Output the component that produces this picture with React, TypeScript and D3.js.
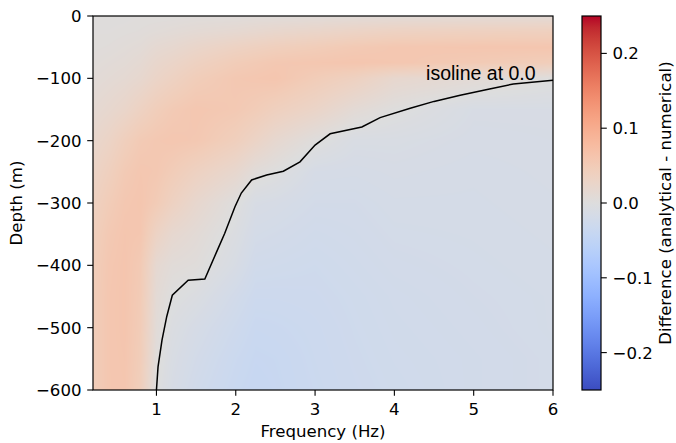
import React, { useMemo } from "react";
import * as d3 from "d3";

// grid of the difference field (values in 1e-3), rows = depth, columns = frequency
const freqs = [0.2, 0.4, 0.6, 0.8, 1.0, 1.2, 1.5, 2.0, 2.25, 2.5, 3.0, 3.5, 4.0, 5.0, 6.0];
const depths = [0, -25, -50, -75, -100, -150, -200, -250, -300, -350, -400, -450, -500, -550, -600];
const diff = [
  [2, 2, 2, 3, 3, 3, 4, 4, 5, 5, 6, 7, 8, 9, 10],
  [3, 3, 4, 5, 7, 9, 12, 16, 19, 22, 26, 31, 35, 38, 40],
  [4, 5, 7, 9, 15, 18, 25, 34, 38, 42, 47, 53, 57, 59, 60],
  [6, 8, 10, 14, 22, 27, 36, 48, 52, 56, 58, 60, 58, 52, 45],
  [8, 11, 14, 19, 28, 35, 46, 56, 58, 60, 48, 37, 20, 11, 1],
  [14, 19, 25, 35, 45, 52, 58, 54, 48, 40, 28, 11, 1, -12, -12],
  [22, 30, 42, 52, 56, 58, 56, 42, 30, 18, 2, -10, -10, -14, -13],
  [30, 40, 52, 58, 56, 48, 36, 20, 6, 0, -15, -16, -14, -16, -14],
  [37, 48, 57, 60, 50, 36, 20, 1, -12, -14, -20, -20, -17, -17, -15],
  [42, 54, 60, 58, 32, 18, 10, -6, -18, -20, -24, -22, -19, -18, -16],
  [45, 57, 61, 52, 16, 7, 4, -12, -24, -25, -27, -24, -21, -19, -17],
  [46, 58, 61, 50, 11, 0, -6, -22, -30, -30, -29, -26, -23, -20, -18],
  [46, 58, 61, 48, 8, -6, -15, -28, -35, -34, -31, -27, -24, -21, -18],
  [46, 58, 60, 46, 4, -10, -20, -33, -38, -37, -32, -28, -25, -22, -19],
  [46, 58, 59, 43, 0, -13, -24, -36, -40, -38, -33, -29, -26, -22, -19],
];

// zero isoline
const isoFreq = [1.0, 1.02, 1.07, 1.13, 1.2, 1.4, 1.61, 1.76, 1.86, 1.99, 2.07, 2.2, 2.39, 2.6, 2.81, 3.0, 3.19, 3.59, 3.82, 4.2, 4.5, 4.83, 5.2, 5.5, 6.0];
const isoDepth = [-600, -563, -520, -482, -448, -424, -422, -378, -349, -306, -284, -263, -255, -249, -234, -207, -189, -178, -163, -148, -137, -127, -117, -109, -103];

const xTicks = [1, 2, 3, 4, 5, 6];
const yTicks = [0, -100, -200, -300, -400, -500, -600];
const cbarTicks = [0.2, 0.1, 0.0, -0.1, -0.2];

// matplotlib coolwarm
const coolwarm = [
  "#3b4cc0", "#445acc", "#4d68d7", "#5775e1", "#6282ea", "#6c8ef1", "#779af7", "#82a5fb",
  "#8db0fe", "#98b9ff", "#a3c2ff", "#aec9fd", "#b8d0f9", "#c2d5f4", "#ccd9ee", "#d5dbe6",
  "#dddddd", "#e5d8d1", "#ecd3c5", "#f1cdb9", "#f5c4ad", "#f7bba0", "#f7b194", "#f7a687",
  "#f49a7b", "#f18d6f", "#ec7f63", "#e57058", "#de604d", "#d55042", "#cb3e38", "#c0282f",
  "#b40426",
];
const cmap = d3.piecewise(d3.interpolateRgb, coolwarm);
const vmin = -0.25, vmax = 0.25;

const W = 676, H = 443;
const m = { left: 93, top: 16, right: 553, bottom: 390 };
const cb = { x: 582, w: 19 };
const font = "DejaVu Sans, sans-serif";
const fs = 16.6;

function sample(f: number, d: number) {
  let i = d3.bisectRight(freqs, f) - 1;
  i = Math.max(0, Math.min(freqs.length - 2, i));
  const tx = Math.max(0, Math.min(1, (f - freqs[i]) / (freqs[i + 1] - freqs[i])));
  let j = 0;
  while (j < depths.length - 2 && d < depths[j + 1]) j++;
  const ty = Math.max(0, Math.min(1, (depths[j] - d) / (depths[j] - depths[j + 1])));
  const a = diff[j][i] * (1 - tx) + diff[j][i + 1] * tx;
  const b = diff[j + 1][i] * (1 - tx) + diff[j + 1][i + 1] * tx;
  return (a * (1 - ty) + b * ty) / 1000;
}

export default function App() {
  const x = d3.scaleLinear().domain([0.2, 6]).range([m.left, m.right]);
  const y = d3.scaleLinear().domain([0, -600]).range([m.top, m.bottom]);
  const c = d3.scaleLinear().domain([vmin, vmax]).range([m.bottom, m.top]);

  const img = useMemo(() => {
    const w = m.right - m.left, h = m.bottom - m.top;
    const canvas = document.createElement("canvas");
    canvas.width = w;
    canvas.height = h;
    const ctx = canvas.getContext("2d")!;
    const data = ctx.createImageData(w, h);
    for (let py = 0; py < h; py++) {
      const d = y.invert(m.top + py + 0.5);
      for (let px = 0; px < w; px++) {
        const f = x.invert(m.left + px + 0.5);
        const v = sample(f, d);
        const col = d3.rgb(cmap((v - vmin) / (vmax - vmin)));
        const k = (py * w + px) * 4;
        data.data[k] = col.r;
        data.data[k + 1] = col.g;
        data.data[k + 2] = col.b;
        data.data[k + 3] = 255;
      }
    }
    ctx.putImageData(data, 0, 0);
    return canvas.toDataURL();
  }, []);

  const line = d3
    .line<number>()
    .x((_, i) => x(isoFreq[i]))
    .y((_, i) => y(isoDepth[i]));

  return (
    <svg width={W} height={H} style={{ position: "absolute", left: 0, top: 0, background: "#fff" }}>
      <defs>
        <linearGradient id="cbar" x1="0" y1="1" x2="0" y2="0">
          {coolwarm.map((col, i) => (
            <stop key={i} offset={i / (coolwarm.length - 1)} stopColor={col} />
          ))}
        </linearGradient>
      </defs>
      <image href={img} x={m.left} y={m.top} width={m.right - m.left} height={m.bottom - m.top} />
      <path d={line(isoFreq) || ""} fill="none" stroke="#000" strokeWidth={1.5} />
      <text x={x(4.4)} y={y(-103)} fontFamily="Liberation Sans, Arial, sans-serif" fontSize={19.5} fill="#000">
        isoline at 0.0
      </text>
      <rect x={m.left} y={m.top} width={m.right - m.left} height={m.bottom - m.top} fill="none" stroke="#000" strokeWidth={1.2} />

      {xTicks.map(t => (
        <g key={t}>
          <line x1={x(t)} x2={x(t)} y1={m.bottom} y2={m.bottom + 5.8} stroke="#000" strokeWidth={1.1} />
          <text x={x(t)} y={414.5} textAnchor="middle" fontFamily={font} fontSize={fs}>{t}</text>
        </g>
      ))}
      {yTicks.map(t => (
        <g key={t}>
          <line x1={m.left - 5.8} x2={m.left} y1={y(t)} y2={y(t)} stroke="#000" strokeWidth={1.1} />
          <text x={81.5} y={y(t)} dy="0.36em" textAnchor="end" fontFamily={font} fontSize={fs}>
            {t < 0 ? "\u2212" + Math.abs(t) : t}
          </text>
        </g>
      ))}
      <text x={(m.left + m.right) / 2} y={437} textAnchor="middle" fontFamily={font} fontSize={fs}>Frequency (Hz)</text>
      <text transform={`translate(22,${(m.top + m.bottom) / 2}) rotate(-90)`} textAnchor="middle" fontFamily={font} fontSize={fs}>Depth (m)</text>

      <rect x={cb.x} y={m.top} width={cb.w} height={m.bottom - m.top} fill="url(#cbar)" stroke="#000" strokeWidth={1.2} />
      {cbarTicks.map(t => (
        <g key={t}>
          <line x1={cb.x + cb.w} x2={cb.x + cb.w + 5.8} y1={c(t)} y2={c(t)} stroke="#000" strokeWidth={1.1} />
          <text x={612.5} y={c(t)} dy="0.36em" fontFamily={font} fontSize={fs}>
            {t < 0 ? "\u2212" + Math.abs(t).toFixed(1) : t.toFixed(1)}
          </text>
        </g>
      ))}
      <text transform={`translate(671,${(m.top + m.bottom) / 2}) rotate(-90)`} textAnchor="middle" fontFamily={font} fontSize={fs}>
        Difference (analytical - numerical)
      </text>
    </svg>
  );
}
